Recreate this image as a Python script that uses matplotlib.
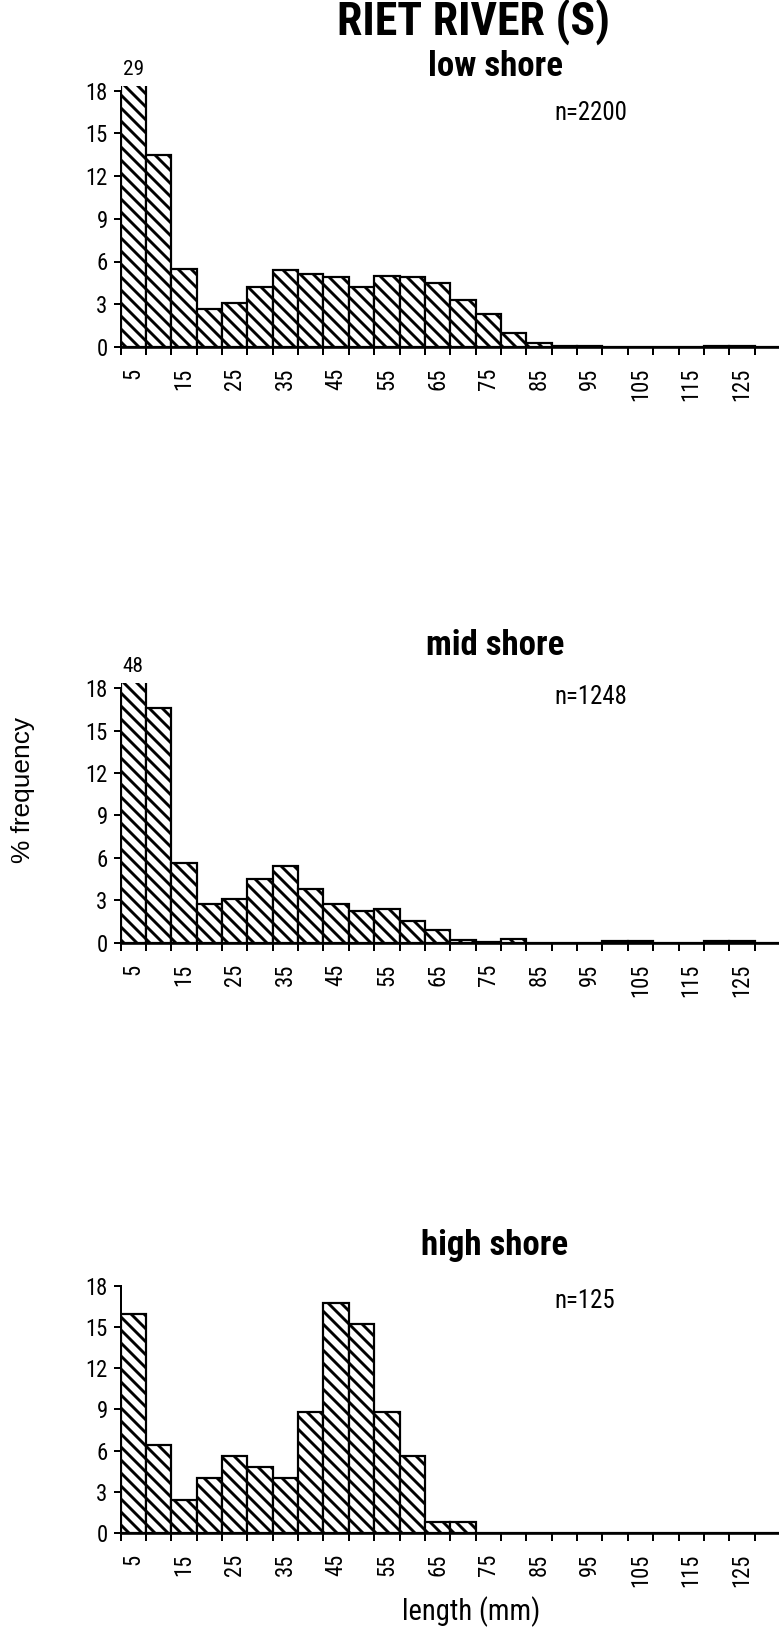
import matplotlib
matplotlib.use("Agg")
import matplotlib.pyplot as plt
from matplotlib import font_manager as fm
from matplotlib.textpath import TextPath
import numpy as np

# Length classes (mm), 5 mm bins
length_classes = list(range(5, 135, 5))
tick_labels = [str(c) if i % 2 == 0 else "" for i, c in enumerate(length_classes)]

# % frequency per length class
low_shore = [29, 13.5, 5.5, 2.7, 3.1, 4.2, 5.4, 5.1, 4.9, 4.2, 5.0, 4.9, 4.5,
             3.3, 2.3, 1.0, 0.25, 0.1, 0.05, 0, 0, 0, 0, 0.05, 0.05, 0]
mid_shore = [48, 16.6, 5.6, 2.7, 3.1, 4.5, 5.4, 3.8, 2.7, 2.2, 2.4, 1.5, 0.9,
             0.2, 0.05, 0.25, 0, 0, 0, 0.08, 0.08, 0, 0, 0.08, 0.08, 0]
high_shore = [16.0, 6.4, 2.4, 4.0, 5.6, 4.8, 4.0, 8.8, 16.8, 15.2, 8.8, 5.6, 0.8,
              0.8, 0, 0, 0, 0, 0, 0, 0, 0, 0, 0, 0, 0]

panel_titles = ["low shore", "mid shore", "high shore"]
sample_sizes = ["n=2200", "n=1248", "n=125"]
series = [low_shore, mid_shore, high_shore]
y_ticks = [0, 3, 6, 9, 12, 15, 18]
y_max = 18


def pick_narrow_family():
    """First installed static narrow sans family that has a bold face."""
    prefs = ["Liberation Sans Narrow", "Arial Narrow", "Nimbus Sans Narrow",
             "Roboto Condensed", "Archivo Narrow", "IBM Plex Sans Condensed",
             "PT Sans Narrow", "Fira Sans Condensed", "Open Sans Condensed",
             "Barlow Semi Condensed", "Encode Sans Condensed"]
    faces = {}
    for f in fm.fontManager.ttflist:
        if "[" in f.fname:
            continue
        w = f.weight if isinstance(f.weight, int) else fm.weight_dict.get(f.weight, 400)
        faces.setdefault(f.name, set()).add(w)
    for p in prefs:
        ws = faces.get(p, set())
        if 400 in ws and any(w >= 700 for w in ws):
            return p
    return "Liberation Sans"


NARROW = [pick_narrow_family(), "Liberation Sans", "DejaVu Sans"]
REGULAR = ["Liberation Sans", "DejaVu Sans"]

# work in pixels; DPI chosen so the hatch spacing is about 6.5 px
DPI = 78
W, H = 779, 1631


def pt(px):
    return px * 72.0 / DPI


def ink_em(s, family, weight="normal"):
    """Ink width and height of a string, in units of the font size."""
    prop = fm.FontProperties(family=family, weight=weight)
    bb = TextPath((0, 0), s, size=100, prop=prop).get_extents()
    return bb.width / 100.0, bb.height / 100.0


def size_for_width(s, px, family, weight="normal"):
    return pt(px / ink_em(s, family, weight)[0])


def size_for_height(s, px, family, weight="normal"):
    return pt(px / ink_em(s, family, weight)[1])


tick_fs = size_for_height("0", 16.5, NARROW)
sub_fs = size_for_width("low shore", 132, NARROW, "bold")
title_fs = size_for_width("RIET RIVER (S)", 268, NARROW, "bold")
n_fs = size_for_width("n=2200", 70, NARROW)
xlab_fs = size_for_width("length (mm)", 134, NARROW)
ylab_fs = size_for_width("% frequency", 145, REGULAR)

plt.rcParams["hatch.linewidth"] = pt(2.9)
plt.rcParams["hatch.color"] = "black"

fig = plt.figure(figsize=(W / DPI, H / DPI), dpi=DPI)

# axes geometry in pixels: (baseline y, pixels per unit)
geom = [(347.0, 14.25), (942.5, 14.13), (1532.7, 13.7)]
left_px, bin_px = 120.6, 25.36
ylim_top = 18.35
nbins = len(length_classes)
x = np.arange(nbins) + 0.5

for k, (vals, title, nlab) in enumerate(zip(series, panel_titles, sample_sizes)):
    y0, ppu = geom[k]
    top = ylim_top * ppu
    ax = fig.add_axes([left_px / W, 1 - y0 / H, nbins * bin_px / W, top / H])
    ax.bar(x, vals, width=1.0, color="white", edgecolor="black",
           linewidth=pt(2.2), hatch="\\\\")
    ax.set_xlim(0, nbins)
    ax.set_ylim(0, ylim_top)

    for s in ("top", "right"):
        ax.spines[s].set_visible(False)
    ax.spines["left"].set_bounds(0, y_max)
    ax.spines["left"].set_linewidth(pt(2.0))
    ax.spines["bottom"].set_linewidth(pt(2.6))

    ax.set_yticks(y_ticks)
    ax.set_yticklabels([str(t) for t in y_ticks], family=NARROW, fontsize=tick_fs)
    ax.tick_params(axis="y", direction="out", length=pt(7), width=pt(2.0),
                   pad=pt(6))

    ax.set_xticks(np.arange(nbins + 1))
    ax.set_xticklabels([])
    ax.tick_params(axis="x", which="major", direction="out", length=pt(8),
                   width=pt(2.0))
    ax.set_xticks(x, minor=True)
    ax.set_xticklabels(tick_labels, minor=True, rotation=90, family=NARROW,
                       fontsize=tick_fs, va="top", ha="center")
    ax.tick_params(axis="x", which="minor", length=0, pad=pt(21))

    # values above the axis limit are written over the clipped bar
    for xi, v in zip(x, vals):
        if v > y_max:
            ax.annotate(f"{v:g}", xy=(xi, ylim_top), xytext=(0, pt(7)),
                        textcoords="offset points", ha="center", va="bottom",
                        family=NARROW, fontsize=size_for_height("0", 15.5, NARROW),
                        annotation_clip=False)

    ax.text(17.1, [16.4, 17.4, 16.9][k], nlab, family=NARROW, fontsize=n_fs,
            ha="left", va="center")

    fig.text(495 / W, 1 - [66, 646, 1245][k] / H, title, family=NARROW,
             fontweight="bold", fontsize=sub_fs, ha="center", va="center")

fig.text(473 / W, 1 - 22 / H, "RIET RIVER (S)", family=NARROW,
         fontweight="bold", fontsize=title_fs, ha="center", va="center")
fig.text(23 / W, 1 - 790 / H, "% frequency", family=REGULAR, fontsize=ylab_fs,
         rotation=90, ha="center", va="center")
fig.text(471 / W, 1 - 1612 / H, "length (mm)", family=NARROW, fontsize=xlab_fs,
         ha="center", va="center")

fig.savefig("out.png", dpi=DPI)
